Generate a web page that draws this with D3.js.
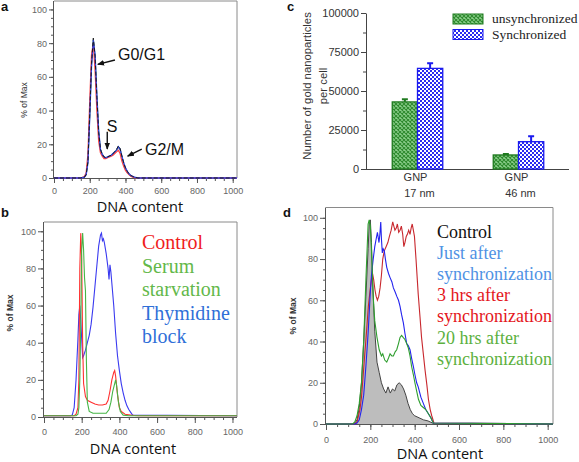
<!DOCTYPE html>
<html><head><meta charset="utf-8">
<script src="https://cdn.jsdelivr.net/npm/d3@7"></script>
<style>body{margin:0;background:#fff}svg{display:block}</style>
</head><body>
<svg id="fig" width="579" height="462"></svg>
<script>
// ---------- Panel a: DNA histograms ----------
const dnaA   = [0,150,170,180,190,200,210,220,230,240,250,260,270,280,290,300,310,320,330,340,350,360,370,380,390,400,410,420,430,440,450,470,1024];
const blackA = [0,0,0.5,2,10,38,68,83,72,48,27,17,14,12.5,12,12.5,13,13.5,14.5,15.5,17,19,17.5,13,9,6,4,2.5,1.5,1,0.5,0,0];
const blueA  = [0,0,0.5,2,9,36,66,82,73,49,28,17,14,12.5,12,12.5,13,13.5,14.5,15.5,16.5,18.5,17,13,9,6,4,2.5,1.5,1,0.5,0,0];
const redA   = [0,0,0.8,3,14,45,73,80,64,40,22,15,13,11.5,11.5,12,12.5,13,13.5,14.5,15.5,16.5,14.5,10,7,4.5,3,2,1,0.5,0.3,0,0];
const greenA = [0,0,0.5,2,10,37,67,82,72,47,27,17,14,12.5,12,12.5,13,13.5,14.5,15.5,16.5,18.5,17,12.5,8.5,5.5,3.5,2,1.2,0.8,0.4,0,0];
const annotA = [
  {text:"G0/G1", tx:358, ty:70,   ax1:341, ay1:70,   ax2:245, ay2:67.4},
  {text:"S",     tx:325, ty:27.4, ax1:298, ay1:27.5, ax2:298, ay2:17.2, anchor:"middle"},
  {text:"G2/M",  tx:509, ty:13.8, ax1:491, ay1:17.2, ax2:412, ay2:13}
];

// ---------- Panel b ----------
const ctrlBx  = [0,160,170,180,185,190,195,200,205,210,220,230,250,270,290,310,330,340,350,360,370,375,380,390,400,410,430,460,480,500,1024];
const ctrlBy  = [0.7,0.7,1.5,5,20,80,99,85,40,18,11,9,8,7,6.5,6.5,7,9,14,20,24,25,22,12,5,3,1.5,1,0.8,0.7,0.7];
const serumBx = [0,170,180,185,190,195,200,205,210,215,220,225,230,240,260,300,330,345,355,365,375,380,385,395,405,420,450,1024];
const serumBy = [0.7,0.7,1.5,5,20,50,90,99,90,75,68,30,8,3,2,2,2,4,8,14,18,20,17,8,3,1,0.7,0.7];
const thymBx  = [0,140,150,160,170,180,185,190,195,200,205,210,220,230,240,250,260,270,280,290,300,305,310,315,320,330,340,345,350,355,360,370,380,390,400,410,420,430,440,450,460,470,1024];
const thymBy  = [0.7,0.7,1,5,20,42,55,60,52,42,32,33,36,40,44,50,59,70,81,92,98,99,95,96,94,88,80,74,82,78,72,60,45,33,25,18,13,9,6,4,2.5,1,0.7];
const legendB = ["Control","Serum","starvation","Thymidine","block"];
const legendBColors = ["#f01c1c","#63b84a","#63b84a","#2f6fd8","#2f6fd8"];

// ---------- Panel c ----------
const catsC   = ["GNP|17 nm","GNP|46 nm"];
const seriesC = ["unsynchronized","Synchronized"];
const unsyncC = [43000, 9000];
const syncC   = [64500, 17500];
const unsyncErr = [1700, 600];
const syncErr   = [3300, 3500];
const ticksC  = [0,25000,50000,75000,100000];

// ---------- Panel d ----------
const ctrlDx  = [0,120,130,140,150,160,170,180,190,195,200,205,210,220,230,240,250,260,270,280,290,300,310,320,330,340,350,360,370,380,390,400,420,440,460,480,490,1024];
const ctrlDy  = [0,0,0.5,2,8,20,40,62,85,97,99,88,70,45,30,25,20,17,15,18,15,17,16,19,20,19,17,14,10,7,5,4,3,2,1.5,0.5,0,0];
const greenDx = [0,120,130,140,150,160,170,180,190,195,200,205,210,215,220,230,240,250,256,265,274,282,289,297,304,312,319,327,334,341,348,356,364,371,379,386,394,401,409,417,428,439,450,462,473,484,1024];
const greenDy = [0,0,1,4,10,20,40,70,97,99,96,85,70,58,50,42,36,33,34,31,30,32,34,33,33,35,36,39,42,43,42,41,39,37,33,28,24,20,16,12,9,8,7,5,3,0.5,0];
const blueDx  = [0,130,140,150,160,170,180,190,200,205,213,220,225,232,239,243,247,250,254,258,263,268,274,282,289,297,304,312,319,327,334,341,349,356,364,371,379,386,394,401,409,416,428,439,450,462,473,484,1024];
const blueDy  = [0,0,0.5,2,7,14,28,44,64,72,80,86,89,93,88,92,98,90,83,85,84,80,76,73,71,69,66,64,62,60,57,53,49,44,39,38,36,32,28,24,20,18,13,10,7,5,3,0.5,0];
const redDx   = [0,130,140,153,160,168,175,183,191,199,205,210,215,221,226,232,238,244,250,256,263,271,279,286,294,301,306,311,317,322,328,334,340,346,351,356,362,367,373,379,384,389,394,399,406,416,424,431,439,447,455,462,470,477,487,1024];
const redDy   = [0,0,1,7,13,24,34,45,57,65,70,73,70,65,62,60,62,66,72,80,84,86,88,91,94,98,96,94,95,97,93,94,96,92,86,88,91,92,94,92,95,97,94,91,80,63,52,42,34,26,19,12,7,4,0.5,0];
const legendD = ["Control","Just after","synchronization","3 hrs after","synchronization","20 hrs after","synchronization"];
const legendDColors = ["#111","#4f92e4","#4f92e4","#e4161c","#e4161c","#5cb03e","#5cb03e"];

const xTicks = [0,200,400,600,800,1000];
const yTicks = [0,20,40,60,80,100];

const svg = d3.select("#fig");
const defs = svg.append("defs");
defs.append("marker").attr("id","arr").attr("viewBox","0 0 10 10").attr("refX",9).attr("refY",5)
  .attr("markerWidth",7).attr("markerHeight",7).attr("orient","auto-start-reverse")
  .attr("markerUnits","userSpaceOnUse")
  .append("path").attr("d","M0,1 L10,5 L0,9 Z").attr("fill","#111");

// patterns for bars
const pg = defs.append("pattern").attr("id","patG").attr("width",4).attr("height",4).attr("patternUnits","userSpaceOnUse");
pg.append("rect").attr("width",4).attr("height",4).attr("fill","#8ccf8c");
pg.append("path").attr("d","M0,0L4,4M4,0L0,4").attr("stroke","#2e8a2e").attr("stroke-width",1.1);
const pb = defs.append("pattern").attr("id","patB").attr("width",4).attr("height",4).attr("patternUnits","userSpaceOnUse");
pb.append("rect").attr("width",4).attr("height",4).attr("fill","#ffffff");
pb.append("rect").attr("width",2).attr("height",2).attr("fill","#2b2bf0");
pb.append("rect").attr("x",2).attr("y",2).attr("width",2).attr("height",2).attr("fill","#2b2bf0");

function histPanel(o){
  const x = d3.scaleLinear().domain([0,1024]).range([o.left,o.right]);
  const y = d3.scaleLinear().domain([0,105]).range([o.bottom,o.top]);
  const g = svg.append("g");
  g.append("path").attr("d",`M${o.left},${o.top}H${o.right}V${o.bottom}`)
    .attr("fill","none").attr("stroke","#8a8a8a").attr("stroke-width",1);
  // minor ticks
  const mx = g.append("g").attr("transform",`translate(0,${o.bottom})`)
    .call(d3.axisBottom(x).tickValues(d3.range(0,1001,50)).tickSize(3).tickFormat(""));
  mx.select(".domain").remove();
  const my = g.append("g").attr("transform",`translate(${o.left},0)`)
    .call(d3.axisLeft(y).tickValues(d3.range(0,101,5)).tickSize(3).tickFormat(""));
  my.select(".domain").remove();
  // major
  const ax = g.append("g").attr("transform",`translate(0,${o.bottom})`)
    .call(d3.axisBottom(x).tickValues(xTicks).tickSize(o.tl).tickSizeOuter(0).tickPadding(o.xpad).tickFormat(d3.format("d")));
  ax.select(".domain").attr("d",`M${o.left},0.5H${o.right}`);
  const ay = g.append("g").attr("transform",`translate(${o.left},0)`)
    .call(d3.axisLeft(y).tickValues(yTicks).tickSize(o.tl).tickSizeOuter(0).tickPadding(2).tickFormat(d3.format("d")));
  ay.select(".domain").attr("d",`M-0.5,${o.bottom}V${o.top}`);
  g.selectAll(".tick line").attr("stroke","#555");
  g.selectAll(".domain").attr("stroke","#555");
  g.selectAll(".tick text").attr("font-family","Liberation Sans, Arial, sans-serif").attr("font-size",9).attr("fill","#666");
  // y label
  g.append("text").attr("transform",`translate(${o.ylx},${o.yly}) rotate(-90)`)
    .attr("text-anchor","middle").attr("dy","0.35em")
    .attr("font-family","Liberation Sans, Arial, sans-serif").attr("font-size",8.5)
    .attr("font-weight",o.ybold?"bold":"normal").attr("fill","#333").text("% of Max");
  // x label
  g.append("text").attr("x",o.xlx).attr("y",o.xly).attr("text-anchor","middle")
    .attr("font-family","Open Sans, sans-serif").attr("font-size",14.5).attr("fill","#111").text("DNA content");
  // panel letter
  g.append("text").attr("x",o.lx).attr("y",o.ly).attr("font-family","Liberation Sans, Arial, sans-serif")
    .attr("font-weight","bold").attr("font-size",13).attr("fill","#111").text(o.letter);
  const plot = g.append("g");
  o.series.forEach(s=>{
    const pts = s.xs.map((v,i)=>[v,s.ys[i]]);
    if(s.fill){
      plot.append("path").datum(pts).attr("fill",s.fill)
        .attr("d",d3.area().x(d=>x(d[0])).y0(y(0)).y1(d=>y(d[1])));
    }
    plot.append("path").datum(pts).attr("fill","none").attr("stroke",s.color)
      .attr("stroke-width",s.w||1.1).attr("stroke-dasharray",s.dash||null)
      .attr("d",d3.line().x(d=>x(d[0])).y(d=>y(d[1])));
  });
  return {x,y,g};
}

// Panel a
const pa = histPanel({left:54,right:237,bottom:178,top:1,tl:5,xpad:5,ylx:24,yly:100,
  xlx:140,xly:212,lx:1,ly:11,letter:"a",ybold:false,
  series:[
    {xs:dnaA,ys:greenA,color:"#2a9a2a"},
    {xs:dnaA,ys:redA,color:"#ff4040",w:1.3},
    {xs:dnaA,ys:blueA,color:"#3344ee",w:1.3},
    {xs:dnaA,ys:blackA,color:"#1a1a1a",w:1,dash:"4,2"}
  ]});
annotA.forEach(a=>{
  pa.g.append("line").attr("x1",pa.x(a.ax1)).attr("y1",pa.y(a.ay1)).attr("x2",pa.x(a.ax2)).attr("y2",pa.y(a.ay2))
    .attr("stroke","#111").attr("stroke-width",1.4).attr("marker-end","url(#arr)");
  pa.g.append("text").attr("x",pa.x(a.tx)).attr("y",pa.y(a.ty)).attr("text-anchor",a.anchor||"start")
    .attr("font-family","Liberation Sans, Arial, sans-serif").attr("font-size",16).attr("fill","#111").text(a.text);
});

// Panel b
const pB = histPanel({left:44,right:237,bottom:417,top:222,tl:6,xpad:6,ylx:10,yly:313,
  xlx:133,xly:454,lx:1,ly:217,letter:"b",ybold:true,
  series:[
    {xs:thymBx,ys:thymBy,color:"#3a3af0"},
    {xs:ctrlBx,ys:ctrlBy,color:"#ff3030"},
    {xs:serumBx,ys:serumBy,color:"#45b545"}
  ]});
legendB.forEach((t,i)=>{
  pB.g.append("text").attr("x",142).attr("y",249+i*23.6).attr("font-family","Liberation Serif, Times New Roman, serif")
    .attr("font-size",20).attr("fill",legendBColors[i]).text(t);
});

// Panel d
const pD = histPanel({left:326,right:553,bottom:424,top:207.5,tl:6,xpad:7,ylx:293,yly:316,
  xlx:440,xly:459,lx:283,ly:217,letter:"d",ybold:true,
  series:[
    {xs:ctrlDx,ys:ctrlDy,color:"#444",fill:"#bdbdbd",w:1},
    {xs:redDx,ys:redDy,color:"#c8282e"},
    {xs:blueDx,ys:blueDy,color:"#2323ee"},
    {xs:greenDx,ys:greenDy,color:"#2e9e2e"}
  ]});
legendD.forEach((t,i)=>{
  pD.g.append("text").attr("x",437).attr("y",237.6+i*21.2).attr("font-family","Liberation Serif, Times New Roman, serif")
    .attr("font-size",18).attr("fill",legendDColors[i]).text(t);
});

// Panel c
(function(){
  const g = svg.append("g");
  const y = d3.scaleLinear().domain([0,100000]).range([169,13]);
  const x0 = d3.scaleBand().domain(catsC).range([367,569]).paddingInner(0.5).paddingOuter(0.25);
  const x1 = d3.scaleBand().domain(seriesC).range([0,x0.bandwidth()]);
  const vals = {unsynchronized:unsyncC, Synchronized:syncC};
  const errs = {unsynchronized:unsyncErr, Synchronized:syncErr};
  const fills = {unsynchronized:"url(#patG)", Synchronized:"url(#patB)"};
  const strokes = {unsynchronized:"#1f7a1f", Synchronized:"#1a1aee"};
  const mg = g.append("g").attr("transform","translate(366,0)")
    .call(d3.axisLeft(y).tickValues(d3.range(0,100001,12500)).tickSize(3).tickFormat(""));
  mg.select(".domain").remove();
  const ay = g.append("g").attr("transform","translate(366,0)")
    .call(d3.axisLeft(y).tickValues(ticksC).tickSize(5).tickSizeOuter(0).tickPadding(2).tickFormat(d3.format("d")));
  ay.selectAll("text").attr("font-family","Liberation Sans, Arial, sans-serif").attr("font-size",11).attr("fill","#333");
  g.selectAll(".tick line").attr("stroke","#444");
  ay.select(".domain").attr("stroke","#444");
  g.append("line").attr("x1",366).attr("x2",569).attr("y1",y(0)+0.5).attr("y2",y(0)+0.5).attr("stroke","#444");
  catsC.forEach((c,ci)=>{
    seriesC.forEach(s=>{
      const bx = x0(c)+x1(s), v = vals[s][ci], e = errs[s][ci];
      g.append("rect").attr("x",bx).attr("y",y(v)).attr("width",x1.bandwidth()).attr("height",y(0)-y(v))
        .attr("fill",fills[s]).attr("stroke",strokes[s]).attr("stroke-width",1.3);
      const cx = bx + x1.bandwidth()/2;
      g.append("line").attr("x1",cx).attr("x2",cx).attr("y1",y(v)).attr("y2",y(v+e)).attr("stroke",strokes[s]).attr("stroke-width",2);
      g.append("line").attr("x1",cx-3).attr("x2",cx+3).attr("y1",y(v+e)).attr("y2",y(v+e)).attr("stroke",strokes[s]).attr("stroke-width",2);
    });
    const [l1,l2] = c.split("|");
    const cx = x0(c)+x0.bandwidth()/2;
    g.append("text").attr("x",cx-2).attr("y",181).attr("text-anchor","middle").attr("font-family","Liberation Sans, Arial, sans-serif")
      .attr("font-size",11).attr("fill","#333").text(l1);
    g.append("text").attr("x",cx+2).attr("y",197).attr("text-anchor","middle").attr("font-family","Liberation Sans, Arial, sans-serif")
      .attr("font-size",11).attr("fill","#333").text(l2);
  });
  g.append("text").attr("transform","translate(307,86) rotate(-90)").attr("text-anchor","middle").attr("dy","0.35em")
    .attr("font-family","Liberation Sans, Arial, sans-serif").attr("font-size",11.3).attr("fill","#333").text("Number of gold nanoparticles");
  g.append("text").attr("transform","translate(323,86) rotate(-90)").attr("text-anchor","middle").attr("dy","0.35em")
    .attr("font-family","Liberation Sans, Arial, sans-serif").attr("font-size",11.3).attr("fill","#333").text("per cell");
  seriesC.forEach((s,i)=>{
    g.append("rect").attr("x",453).attr("y",14+i*15.5).attr("width",30).attr("height",10)
      .attr("fill",fills[s]).attr("stroke",strokes[s]).attr("stroke-width",1);
    g.append("text").attr("x",492).attr("y",23+i*15.5).attr("font-family","Liberation Serif, Times New Roman, serif")
      .attr("font-size",13.5).attr("fill","#222").text(s);
  });
  g.append("text").attr("x",287).attr("y",11).attr("font-family","Liberation Sans, Arial, sans-serif")
    .attr("font-weight","bold").attr("font-size",13).attr("fill","#111").text("c");
})();
</script>
</body></html>
